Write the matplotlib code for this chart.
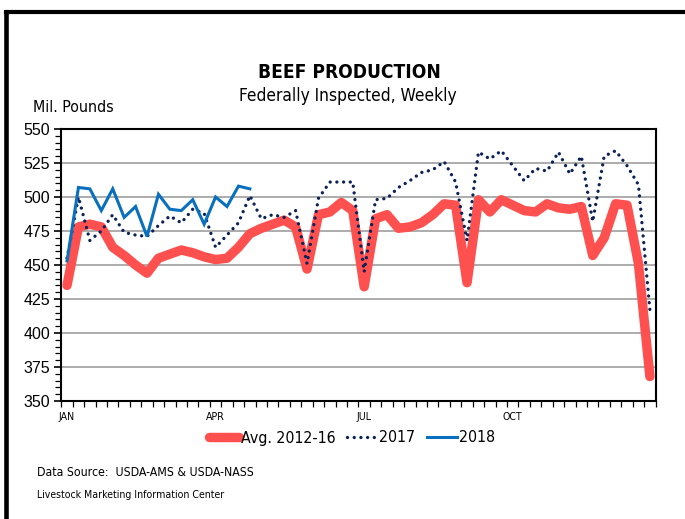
import matplotlib
matplotlib.use("Agg")
import matplotlib.pyplot as plt
from matplotlib import font_manager
from matplotlib.font_manager import FontProperties
from matplotlib.lines import Line2D
from matplotlib.ticker import MultipleLocator, FixedLocator

weeks = list(range(52))
avg_2012_16 = [435, 478, 480, 478, 463, 457, 450, 444, 455, 458, 461, 459, 456, 454, 455, 463,
               473, 477, 480, 483, 478, 447, 487, 489, 496, 490, 434, 484, 487, 477, 478, 481,
               487, 495, 494, 437, 498, 489, 498, 494, 490, 489, 495, 492, 491, 493, 457, 470,
               495, 494, 451, 368]
y2017 = [455, 500, 468, 475, 487, 474, 472, 471, 479, 486, 481, 491, 488, 463, 472, 481,
         501, 484, 487, 485, 490, 451, 499, 511, 511, 511, 445, 498, 499, 507, 512, 518,
         520, 526, 511, 468, 533, 528, 534, 523, 512, 521, 519, 533, 517, 530, 482, 530,
         534, 523, 509, 417]
y2018 = [453, 507, 506, 490, 506, 485, 493, 471, 502, 491, 490, 498, 480, 500, 493, 508, 506]
month_pos = [0, 13, 26, 39]
month_labels = ["JAN", "APR", "JUL", "OCT"]


def find_condensed(bold):
    for f in font_manager.fontManager.ttflist:
        nm = f.name + " " + str(f.fname)
        cond = ("Narrow" in nm or "Condensed" in nm or
                str(f.stretch) in ("condensed", "semi-condensed", "extra-condensed", "75", "87.5"))
        if not cond or f.style != "normal":
            continue
        if "Extra" in nm or "Semi" in nm or "Ultra" in nm:
            continue
        w = f.weight if isinstance(f.weight, int) else (700 if "bold" in str(f.weight) else 400)
        if bold and w < 600:
            continue
        if not bold and w != 400:
            continue
        if f.fname.lower().endswith((".ttf", ".otf")):
            return f.fname
    return None

reg_file = find_condensed(False)
bold_file = find_condensed(True)
if reg_file:
    FP_REG = lambda: FontProperties(fname=reg_file)
else:
    FP_REG = lambda: FontProperties(family="Liberation Sans")
if bold_file:
    FP_BOLD = lambda: FontProperties(fname=bold_file)
else:
    FP_BOLD = lambda: FontProperties(family="Liberation Sans", weight="bold")

fig = plt.figure(figsize=(6.85, 5.19), dpi=100)
ax = fig.add_axes([61.3/685, 1-401/519, (655.6-61.3)/685, (401-129)/519])

ax.plot(weeks, avg_2012_16, color="#FF5050", lw=6.8, solid_capstyle="round",
        solid_joinstyle="round", label="Avg. 2012-16", zorder=2)
ax.plot(weeks, y2017, color="#0B2158", lw=2.4, linestyle=(0, (0.01, 2.0)),
        dash_capstyle="round", label="2017", zorder=3)
ax.plot(weeks[:len(y2018)], y2018, color="#0A70BE", lw=2.2, label="2018", zorder=4,
        solid_joinstyle="miter")

ax.set_xlim(-0.5, 51.5)
ax.set_ylim(350, 550)
ax.yaxis.set_major_locator(MultipleLocator(25))
ax.yaxis.set_minor_locator(MultipleLocator(5))
ax.xaxis.set_major_locator(FixedLocator(month_pos))
ax.set_xticklabels(month_labels)
ax.xaxis.set_minor_locator(FixedLocator([i - 0.5 for i in range(53)]))
ax.grid(axis="y", which="major", color="#a6a6a6", lw=1.3, zorder=0)
ax.set_axisbelow(True)
for s in ax.spines.values():
    s.set_linewidth(1.5)
    s.set_color("black")
ax.tick_params(axis="y", which="major", length=5, width=1.2, pad=3, direction="out")
ax.tick_params(axis="y", which="minor", length=4, width=0.9, direction="out")
ax.tick_params(axis="x", which="major", length=0, pad=8)
ax.tick_params(axis="x", which="minor", length=4, width=0.9, direction="out")
for lbl in ax.get_yticklabels():
    lbl.set_fontproperties(FontProperties(family="Liberation Sans", size=11.5))
for lbl in ax.get_xticklabels():
    lbl.set_fontproperties(FP_REG())

t_title = fig.text(349/685, 1-73/519, "BEEF PRODUCTION", ha="center", va="center",
                   fontproperties=FP_BOLD())
t_sub = fig.text(348/685, 1-96/519, "Federally Inspected, Weekly", ha="center", va="center",
                 fontproperties=FP_REG())
t_mil = fig.text(33/685, 1-108/519, "Mil. Pounds", ha="left", va="center",
                 fontproperties=FP_REG())
t_src = fig.text(37/685, 1-473/519, "Data Source:  USDA-AMS & USDA-NASS", ha="left",
                 va="center", fontproperties=FP_REG())
t_lmic = fig.text(37/685, 1-495/519, "Livestock Marketing Information Center", ha="left",
                  va="center", fontproperties=FP_REG())

targets = [(t_title, 182), (t_sub, 217), (t_mil, 81), (t_src, 216), (t_lmic, 188)]
fig.canvas.draw()
r = fig.canvas.get_renderer()
for t, w in targets:
    t.set_fontsize(12)
    cur = t.get_window_extent(r).width
    t.set_fontsize(12 * w / cur)
probe = fig.text(0, 0, "JAN", fontproperties=FP_REG())
probe.set_fontsize(10)
fs_x = 10 * 16 / probe.get_window_extent(r).width
probe2 = fig.text(0, 0, "Avg. 2012-16", fontproperties=FP_REG())
probe2.set_fontsize(10)
fs_leg = 10 * 95 / probe2.get_window_extent(r).width
probe.remove()
probe2.remove()
for lbl in ax.get_xticklabels():
    lbl.set_fontsize(fs_x)

lp = FP_REG()
lp.set_size(fs_leg)
leg = fig.legend(loc="center", bbox_to_anchor=(352/685, 1-438/519), ncol=3, frameon=False,
                 prop=lp, handlelength=1.9, handletextpad=0.15, columnspacing=0.7)

fig.add_artist(Line2D([5.5/685, 5.5/685], [0, 1-12/519], transform=fig.transFigure,
                      color="black", lw=3.3, solid_capstyle="projecting"))
fig.add_artist(Line2D([5.5/685, 1.0], [1-12/519, 1-12/519], transform=fig.transFigure,
                      color="black", lw=3.0, solid_capstyle="projecting"))

fig.savefig("out.png", dpi=100)
